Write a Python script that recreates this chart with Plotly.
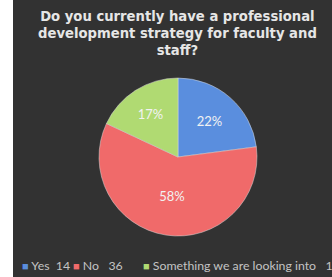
import plotly.graph_objects as go

labels = ["Yes", "No", "Something we are looking into"]
values = [14, 36, 11]
pct_labels = ["22%", "58%", "17%"]
colors = ["#5a8ede", "#f06a6a", "#b0da72"]

title = "Do you currently have a professional<br>development strategy for faculty and<br>staff?"

W, H = 332, 277
nb = "\u00a0"
legend_x = [20, 71, 141]
legend_gap = [2, 3, 3]

fig = go.Figure(go.Pie(
    labels=labels,
    values=values,
    text=pct_labels,
    textinfo="text",
    textposition="inside",
    insidetextorientation="horizontal",
    sort=False,
    direction="clockwise",
    rotation=0,
    marker=dict(colors=colors, line=dict(color="#d8d8d8", width=0.5)),
    textfont=dict(family="Lato", size=13, color="#f2f2f2"),
    domain=dict(x=[99 / W, 257 / W], y=[1 - 236 / H, 1 - 78 / H]),
    hoverinfo="skip",
    showlegend=False,
))

annotations = [
    dict(text=title, x=177 / W, y=1 - 33 / H, xref="paper", yref="paper",
         xanchor="center", yanchor="middle", showarrow=False,
         font=dict(family="DejaVu Sans", size=13.2, color="#e6e6e6", weight="bold")),
]
for l, v, c, lx, g in zip(labels, values, colors, legend_x, legend_gap):
    annotations.append(dict(
        text=f"<span style='color:{c};font-size:11px'>■</span>{nb}{l}{nb * g}{v}",
        x=lx / W, y=1 - 265 / H, xref="paper", yref="paper",
        xanchor="left", yanchor="middle", showarrow=False, align="left",
        font=dict(family="Lato", size=12.3, color="#c4c4c4"),
    ))

fig.update_layout(
    width=W, height=H,
    margin=dict(l=0, r=0, t=0, b=0),
    paper_bgcolor="white",
    shapes=[dict(type="rect", xref="paper", yref="paper", x0=13 / W, x1=1.1, y0=-0.1, y1=1.1,
                 fillcolor="#323232", line=dict(width=0), layer="below")],
    annotations=annotations,
)

fig.write_html("out.html", config={"displayModeBar": False},
               post_script="document.body.style.margin='0px';document.body.style.overflow='hidden';"
                           "document.body.style.background='#323232';")
